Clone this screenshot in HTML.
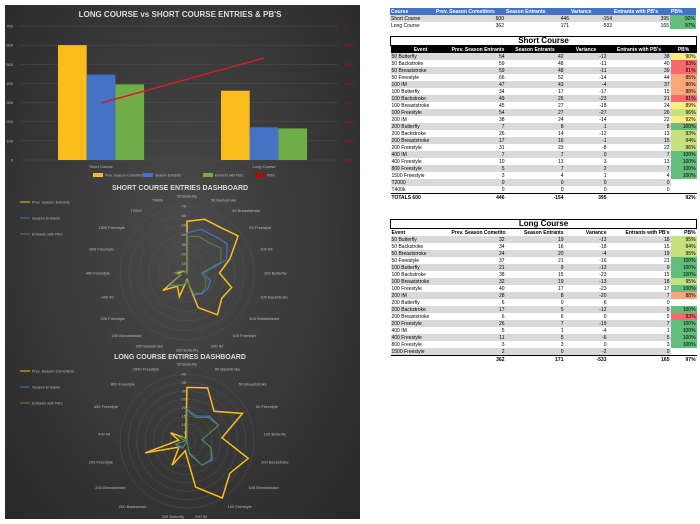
<!DOCTYPE html>
<html><head><meta charset="utf-8">
<style>
body{margin:0;width:700px;height:524px;background:#fff;position:relative;overflow:hidden;font-family:"Liberation Sans",sans-serif}
#panel{position:absolute;left:5px;top:5px;width:355px;height:514px;background:radial-gradient(ellipse at 50% 45%,#4a4a4a 0%,#363636 60%,#282828 100%)}
svg text{font-family:"Liberation Sans",sans-serif}
table{position:absolute;left:390px;border-collapse:collapse;table-layout:fixed;width:306px;font-size:5px;line-height:6px}
td{padding:0 1px;height:7px;white-space:nowrap;overflow:hidden;text-align:right}
td:first-child{text-align:left}
.g td{background:#d9d9d9}
.t td{border-top:1px solid #000}
.ttl td{text-align:center;font-size:8px;line-height:8px;font-weight:bold;height:8px;border:1px solid #000}
.hd td{background:#000;color:#fff;font-weight:bold;text-align:center}
.hb td{background:#4472c4;color:#fff;font-weight:bold;text-align:left}
</style></head><body>
<div id="panel"></div>
<svg id="s" width="360" height="524" style="position:absolute;left:0;top:0"></svg>

<table style="top:8px" id="sum">
<colgroup><col style="width:45px"><col style="width:70px"><col style="width:65px"><col style="width:43px"><col style="width:57px"><col style="width:26px"></colgroup>
<tr class="hb"><td>Course</td><td>Prev. Season Cometitors</td><td>Season Entrants</td><td>Variance</td><td>Entrants with PB's</td><td>PB%</td></tr>
<tr class="g"><td>Short Course</td><td>600</td><td>446</td><td>-154</td><td>395</td><td style="background:#63be7b">92%</td></tr>
<tr><td>Long Course</td><td>362</td><td>171</td><td>-533</td><td>165</td><td style="background:#63be7b">97%</td></tr>
</table>

<table style="top:36px" id="sc"><colgroup><col style="width:60px"><col style="width:55px"><col style="width:59px"><col style="width:43px"><col style="width:63px"><col style="width:26px"></colgroup>
<tr class="ttl"><td colspan="6">Short Course</td></tr>
<tr class="hd"><td style="text-align:center">Event</td><td>Prev. Season Entrants</td><td>Season Entrants</td><td>Variance</td><td>Entrants with PB's</td><td>PB%</td></tr>
</table>

<table style="top:219px" id="lc"><colgroup><col style="width:60px"><col style="width:55px"><col style="width:59px"><col style="width:43px"><col style="width:63px"><col style="width:26px"></colgroup>
<tr class="ttl"><td colspan="6">Long Course</td></tr>
<tr style="font-weight:bold"><td>Event</td><td>Prev. Season Cometitors</td><td>Season Entrants</td><td>Variance</td><td>Entrants with PB's</td><td>PB%</td></tr>
</table>

<script>
const NS="http://www.w3.org/2000/svg",S=document.getElementById('s');
function el(t,a,txt){const e=document.createElementNS(NS,t);for(const k in a)e.setAttribute(k,a[k]);if(txt!==undefined)e.textContent=txt;S.appendChild(e);return e;}
const Y='#fbbd1e',B='#4472c4',G='#70ad47',R='#c00000';
el('text',{x:180,y:17,fill:'#ddd','font-size':8,'font-weight':'bold','text-anchor':'middle'},"LONG COURSE vs SHORT COURSE ENTRIES & PB'S");
const y0=160,k=134/700;
for(let i=0;i<=7;i++){const y=y0-i*100*k;el('line',{x1:20,x2:338,y1:y,y2:y,stroke:'#555','stroke-width':0.4});
el('text',{x:13,y:y+1.5,fill:'#bbb','font-size':4,'text-anchor':'end'},i*100);
el('text',{x:345,y:y+1.5,fill:'#e00','font-size':4},['0.83','0.85','0.88','0.9','0.93','0.95','0.98','1'][i]);}
[[58,[600,446,395]],[221,[362,171,165]]].forEach(([x,v])=>{[Y,B,G].forEach((c,j)=>el('rect',{x:x+j*28.7,y:y0-v[j]*k,width:28.7,height:v[j]*k,fill:c}))});
el('line',{x1:101,y1:103,x2:264,y2:58,stroke:'#d0202a','stroke-width':1.5});
el('text',{x:101,y:168,fill:'#bbb','font-size':4,'text-anchor':'middle'},'Short Course');
el('text',{x:264,y:168,fill:'#bbb','font-size':4,'text-anchor':'middle'},'Long Course');
[[93,Y,'Prev. Season Cometitors'],[143,B,'Season Entrants'],[203,G,"Entrants with PB's"],[255,R,'PB%']].forEach(([x,c,t])=>{el('rect',{x:x,y:173,width:10,height:4,fill:c});el('text',{x:x+12,y:176.5,fill:'#bbb','font-size':3.5},t);});
function radar(cx,cy,r,max,step,cats,data,title,ty,leg,ly){
 el('text',{x:180,y:ty,fill:'#ddd','font-size':7,'font-weight':'bold','text-anchor':'middle'},title);
 const n=cats.length,ang=i=>-Math.PI/2+2*Math.PI*i/n;
 for(let v=step;v<=max;v+=step){el('circle',{cx,cy,r:r*v/max,fill:'none',stroke:'#585858','stroke-width':0.4});
  el('text',{x:cx-1,y:cy-r*v/max+1.5,fill:'#bbb','font-size':4,'text-anchor':'end'},v);}
 cats.forEach((c,i)=>{const a=ang(i),x=cx+(r+10)*Math.cos(a),y=cy+(r+10)*Math.sin(a);
  el('text',{x,y:y+1.5,fill:'#bbb','font-size':4,'text-anchor':Math.abs(Math.cos(a))<0.2?'middle':(Math.cos(a)>0?'start':'end')},c);});
 [[Y,1.5],[B,1.2],[G,0.9]].forEach(([c,w],j)=>{const p=data[j].map((v,i)=>{const a=ang(i);return (cx+r*v/max*Math.cos(a)).toFixed(1)+','+(cy+r*v/max*Math.sin(a)).toFixed(1)}).join(' ');
  el('polygon',{points:p,fill:'none',stroke:j==2?'#5a8a3a':c,'stroke-width':w,'stroke-linejoin':'miter'});});
 leg.forEach((t,j)=>{el('line',{x1:20,x2:30,y1:ly+j*16,y2:ly+j*16,stroke:[Y,B,'#5a8a3a'][j],'stroke-width':1});el('text',{x:32,y:ly+j*16+1.3,fill:'#bbb','font-size':3.8},t);});
}
const scC=['50 Butterfly','50 Backstroke','50 Breaststroke','50 Freestyle','100 IM','100 Butterfly','100 Backstroke','100 Breaststroke','100 Freestyle','200 IM','200 Butterfly','200 Backstroke','200 Breaststroke','200 Freestyle','400 IM','400 Freestyle','800 Freestyle','1500 Freestyle','T2000','T400k'];
const scP=[54,59,59,66,47,34,49,45,54,38,7,26,17,31,7,10,5,3,0,0],scS=[42,48,48,52,43,17,26,27,27,24,8,14,16,23,7,13,7,4,0,0],scB=[38,40,39,44,37,15,21,24,26,22,8,13,15,22,7,13,7,4,0,0],
scV=[90,83,81,85,86,88,81,89,96,92,100,93,94,96,100,100,100,100,null,null];
radar(187,273,67,70,10,scC,[scP,scS,scB],'SHORT COURSE ENTRIES DASHBOARD',190,['Prev. Season Entrants','Season Entrants',"Entrants with PB's"],202);
const lcC=['50 Butterfly','50 Backstroke','50 Breaststroke','50 Freestyle','100 Butterfly','100 Backstroke','100 Breaststroke','100 Freestyle','200 IM','200 Butterfly','200 Backstroke','200 Breaststroke','200 Freestyle','400 IM','400 Freestyle','800 Freestyle','1500 Freestyle'];
const lcP=[32,34,24,37,21,38,32,40,28,6,17,6,26,5,11,3,2],lcS=[19,16,20,21,9,15,19,17,8,0,5,6,7,1,5,3,0],lcB=[18,15,19,21,9,15,18,17,7,0,5,5,7,1,5,3,0],
lcV=[95,94,95,100,100,100,95,100,88,null,100,83,100,100,100,100,null];
radar(187,441,67,40,5,lcC,[lcP,lcS,lcB],'LONG COURSE ENTIRES DASHBOARD',359,['Prev. Season Cometitors','Season Entrants',"Entrants with PB's"],371);
function col(v){if(v==null)return'';if(v>=97)return'#63be7b';if(v>=93)return'#c5e07f';if(v>=89)return'#ffeb84';if(v>=84)return'#f8a77a';return'#f8696b';}
function fill(id,c,p,s,b,v,tot){const T=document.getElementById(id);c.forEach((n,i)=>{const tr=T.insertRow();if(i%2==0)tr.className='g';
 [n,p[i],s[i],s[i]-p[i],b[i],v[i]==null?'':v[i]+'%'].forEach((x,j)=>{const td=tr.insertCell();td.textContent=x;if(j==5)td.style.background=col(v[i])||'#fff';});});
 const tr=T.insertRow();tr.style.fontWeight='bold';tot.forEach(x=>{const td=tr.insertCell();td.textContent=x;td.style.borderTop='1.5px solid #000';});}
fill('sc',scC,scP,scS,scB,scV,['TOTALS     600','446','-154','395','','92%']);
fill('lc',lcC,lcP,lcS,lcB,lcV,['','362','171','-533','165','97%']);
</script>
</body></html>
